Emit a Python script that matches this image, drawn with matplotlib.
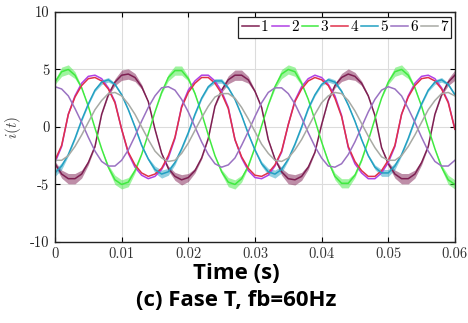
import matplotlib
matplotlib.use("Agg")
import matplotlib.pyplot as plt

plt.rcParams['axes.unicode_minus'] = False
plt.rcParams['mathtext.fontset'] = 'cm'

# time samples in ms
time_ms = [0, 1, 2, 3, 4, 5, 6, 7, 8, 9,
           10, 11, 12, 13, 14, 15, 16, 17, 18, 19,
           20, 21, 22, 23, 24, 25, 26, 27, 28, 29,
           30, 31, 32, 33, 34, 35, 36, 37, 38, 39,
           40, 41, 42, 43, 44, 45, 46, 47, 48, 49,
           50, 51, 52, 53, 54, 55, 56, 57, 58, 59, 60]

i1 = [-3.2, -4.1, -4.5, -4.5, -4.1, -3.1, -1.7, 1.1, 2.8, 3.9,
      4.5, 4.6, 4.3, 3.5, 2.2, -0.2, -2.3, -3.6, -4.3, -4.6,
      -4.4, -3.8, -2.7, -1.0, 1.8, 3.2, 4.1, 4.5, 4.5, 4.1,
      3.1, 1.7, -1.1, -2.8, -3.9, -4.5, -4.6, -4.3, -3.5, -2.2,
      0.2, 2.3, 3.6, 4.3, 4.6, 4.4, 3.8, 2.7, 1.0, -1.8,
      -3.2, -4.1, -4.5, -4.5, -4.1, -3.1, -1.7, 1.1, 2.8, 3.9, 4.5]
i2 = [-3.1, -1.7, 1.1, 2.7, 3.8, 4.4, 4.5, 4.2, 3.4, 2.2,
      -0.2, -2.3, -3.5, -4.2, -4.5, -4.3, -3.7, -2.7, -1.0, 1.8,
      3.2, 4.0, 4.5, 4.5, 4.0, 3.1, 1.7, -1.1, -2.7, -3.8,
      -4.4, -4.5, -4.2, -3.4, -2.2, 0.2, 2.3, 3.5, 4.2, 4.5,
      4.3, 3.7, 2.7, 1.0, -1.8, -3.2, -4.0, -4.5, -4.5, -4.0,
      -3.1, -1.7, 1.1, 2.7, 3.8, 4.4, 4.5, 4.2, 3.4, 2.2, -0.2]
i3 = [3.9, 4.8, 5.0, 4.5, 3.4, 1.8, -0.1, -1.9, -3.5, -4.6,
      -5.0, -4.8, -3.8, -2.4, -0.6, 1.3, 3.0, 4.3, 4.9, 4.9,
      4.2, 2.9, 1.2, -0.7, -2.5, -3.9, -4.8, -5.0, -4.5, -3.4,
      -1.8, 0.1, 1.9, 3.5, 4.6, 5.0, 4.8, 3.8, 2.4, 0.6,
      -1.3, -3.0, -4.3, -4.9, -4.9, -4.2, -2.9, -1.2, 0.7, 2.5,
      3.9, 4.8, 5.0, 4.5, 3.4, 1.8, -0.1, -1.9, -3.5, -4.6, -5.0]
i4 = [-2.9, -1.6, 1.1, 2.6, 3.6, 4.2, 4.3, 4.0, 3.3, 2.1,
      -0.2, -2.2, -3.3, -4.0, -4.3, -4.1, -3.6, -2.5, -0.9, 1.7,
      3.0, 3.8, 4.3, 4.3, 3.8, 2.9, 1.6, -1.1, -2.6, -3.6,
      -4.2, -4.3, -4.0, -3.3, -2.1, 0.2, 2.2, 3.3, 4.0, 4.3,
      4.1, 3.6, 2.5, 0.9, -1.7, -3.0, -3.8, -4.3, -4.3, -3.8,
      -2.9, -1.6, 1.1, 2.6, 3.6, 4.2, 4.3, 4.0, 3.3, 2.1, -0.2]
i5 = [-4.0, -3.4, -2.4, -1.0, 0.6, 2.0, 3.2, 3.9, 4.1, 3.7,
      2.8, 1.5, 0.0, -1.6, -2.8, -3.7, -4.1, -3.9, -3.1, -1.9,
      -0.5, 1.1, 2.5, 3.5, 4.0, 4.0, 3.4, 2.4, 1.0, -0.6,
      -2.0, -3.2, -3.9, -4.1, -3.7, -2.8, -1.5, 0.0, 1.6, 2.8,
      3.7, 4.1, 3.9, 3.1, 1.9, 0.5, -1.1, -2.5, -3.5, -4.0,
      -4.0, -3.4, -2.4, -1.0, 0.6, 2.0, 3.2, 3.9, 4.1, 3.7, 2.8]
i6 = [3.5, 3.3, 2.7, 1.6, 0.4, -0.9, -2.1, -3.0, -3.4, -3.4,
      -2.9, -2.0, -0.8, 0.5, 1.7, 2.7, 3.4, 3.5, 3.2, 2.4,
      1.3, 0.0, -1.3, -2.4, -3.2, -3.5, -3.3, -2.7, -1.6, -0.4,
      0.9, 2.1, 3.0, 3.4, 3.4, 2.9, 2.0, 0.8, -0.5, -1.7,
      -2.7, -3.4, -3.5, -3.2, -2.4, -1.3, 0.0, 1.3, 2.4, 3.2,
      3.5, 3.3, 2.7, 1.6, 0.4, -0.9, -2.1, -3.0, -3.4, -3.4, -2.9]
i7 = [-2.9, -2.9, -2.5, -1.7, -0.7, 0.4, 1.5, 2.3, 2.9, 3.0,
      2.7, 2.0, 1.1, 0.0, -1.1, -2.1, -2.7, -3.0, -2.9, -2.3,
      -1.4, -0.3, 0.8, 1.8, 2.6, 2.9, 2.9, 2.5, 1.7, 0.7,
      -0.4, -1.5, -2.3, -2.9, -3.0, -2.7, -2.0, -1.1, 0.0, 1.1,
      2.1, 2.7, 3.0, 2.9, 2.3, 1.4, 0.3, -0.8, -1.8, -2.6,
      -2.9, -2.9, -2.5, -1.7, -0.7, 0.4, 1.5, 2.3, 2.9, 3.0, 2.7]

# switching ripple half-width (0 = clean trace)
r1 = [0.2, 0.35, 0.45, 0.45, 0.35, 0.2, 0.05, 0.05, 0.1, 0.3,
      0.45, 0.45, 0.35, 0.2, 0.05, 0.05, 0.05, 0.2, 0.35, 0.45,
      0.35, 0.2, 0.1, 0.05, 0.05, 0.2, 0.35, 0.45, 0.45, 0.3,
      0.1, 0.05, 0.05, 0.1, 0.3, 0.45, 0.45, 0.35, 0.2, 0.05,
      0.05, 0.05, 0.2, 0.35, 0.45, 0.35, 0.2, 0.1, 0.05, 0.05,
      0.2, 0.35, 0.45, 0.45, 0.35, 0.2, 0.05, 0.05, 0.1, 0.3, 0.45]
r3 = [0.2, 0.4, 0.4, 0.3, 0.1, 0.0, 0.0, 0.0, 0.2, 0.4,
      0.4, 0.4, 0.2, 0.0, 0.0, 0.0, 0.1, 0.3, 0.4, 0.4,
      0.2, 0.1, 0.0, 0.0, 0.0, 0.2, 0.4, 0.4, 0.3, 0.1,
      0.0, 0.0, 0.0, 0.2, 0.4, 0.4, 0.4, 0.2, 0.0, 0.0,
      0.0, 0.1, 0.3, 0.4, 0.4, 0.2, 0.1, 0.0, 0.0, 0.0,
      0.2, 0.4, 0.4, 0.3, 0.1, 0.0, 0.0, 0.0, 0.2, 0.4, 0.4]
r5 = [0.3, 0.3, 0.12, 0.12, 0.12, 0.12, 0.12, 0.2, 0.2, 0.12,
      0.12, 0.12, 0.12, 0.12, 0.12, 0.3, 0.35, 0.3, 0.2, 0.12,
      0.12, 0.12, 0.12, 0.12, 0.2, 0.2, 0.12, 0.12, 0.12, 0.12,
      0.12, 0.2, 0.3, 0.35, 0.3, 0.12, 0.12, 0.12, 0.12, 0.12,
      0.12, 0.2, 0.2, 0.12, 0.12, 0.12, 0.12, 0.12, 0.2, 0.3,
      0.3, 0.3, 0.12, 0.12, 0.12, 0.12, 0.12, 0.2, 0.2, 0.12, 0.12]
r0 = [0.0] * 61

labels = ['1', '2', '3', '4', '5', '6', '7']
colors = ['#7e1f52', '#b040e6', '#40ea40', '#e0304a', '#22a0c2', '#9a72c2', '#a8aaa4']
xticks = [0, 0.01, 0.02, 0.03, 0.04, 0.05, 0.06]
xticklabels = ['0', '0.01', '0.02', '0.03', '0.04', '0.05', '0.06']
yticks = [-10, -5, 0, 5, 10]
yticklabels = ['-10', '-5', '0', '5', '10']

t = [v / 1000 for v in time_ms]
series = [i1, i2, i3, i4, i5, i6, i7]
ripple = [r1, r0, r3, r0, r5, r0, r0]

fig = plt.figure(figsize=(4.68, 3.23), dpi=100)
ax = fig.add_axes([0.1175, 0.251, 0.8545, 0.712])

for y, r, c, lab in zip(series, ripple, colors, labels):
    ax.plot(t, y, color=c, lw=1.1, label=lab)
    if max(r) > 0:
        lo = [a - b for a, b in zip(y, r)]
        hi = [a + b for a, b in zip(y, r)]
        ax.fill_between(t, lo, hi, color=c, alpha=0.5, lw=0)

ax.set_xlim(0, 0.06)
ax.set_ylim(-10, 10)
ax.set_xticks(xticks)
ax.set_xticklabels(xticklabels, family='cmr10', fontsize=10.5, color='#333333')
ax.set_yticks(yticks)
ax.set_yticklabels(yticklabels, family='cmr10', fontsize=10.5, color='#222222')
ax.tick_params(direction='in', top=True, right=True, length=3.5, width=0.8, pad=4)
ax.grid(True, color='#dcdcdc', lw=0.8)
ax.set_axisbelow(True)
for s in ax.spines.values():
    s.set_linewidth(1.0)
    s.set_color('#222222')

ax.set_ylabel('$i(t)$', fontsize=11, color='#444444', labelpad=5)

leg = ax.legend(ncol=7, loc='upper right', bbox_to_anchor=(0.995, 0.985),
                prop={'family': 'cmr10', 'size': 11}, handlelength=1.1,
                handletextpad=0.15, columnspacing=0.2, borderpad=0.25,
                borderaxespad=0.1, fancybox=False, framealpha=1, edgecolor='#222222')
leg.get_frame().set_linewidth(0.9)

fig.text(0.505, 0.152, 'Time (s)', ha='center', va='center', fontsize=16,
         fontweight='bold', family='Open Sans')
fig.text(0.505, 0.071, '(c) Fase T, fb=60Hz', ha='center', va='center', fontsize=16,
         fontweight='bold', family='Open Sans')

fig.savefig('out.png', dpi=100)
